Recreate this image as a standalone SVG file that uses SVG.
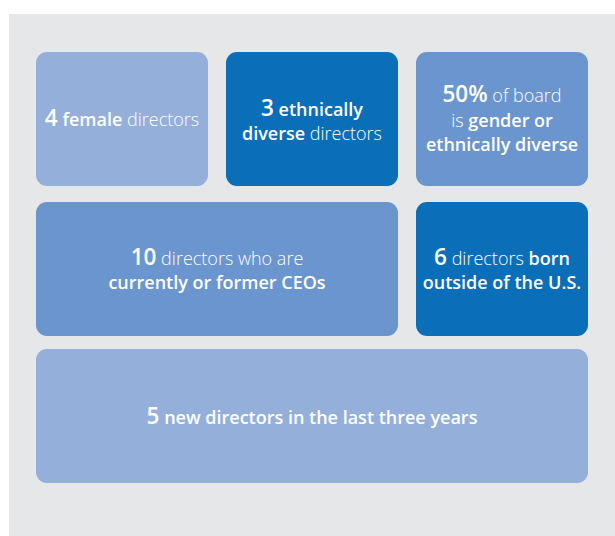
<svg xmlns="http://www.w3.org/2000/svg" width="615" height="536" viewBox="0 0 615 536">
<style>
.bg{fill:#E6E7E8}
.light{fill:#93AFDA}
.mid{fill:#6A95CE}
.dark{fill:#0A6EB8}
text{font-family:"Open Sans","Noto Sans",sans-serif;font-size:18px;fill:#FFFFFF;text-anchor:middle;font-weight:300}
.b{font-weight:600}
.n{font-weight:600;font-size:22.5px}
</style>
<rect class="bg" x="9" y="14" width="606" height="522"/>
<g id="female">
<rect class="light" x="36" y="52" width="172" height="134" rx="11"/>
<text x="122" y="126"><tspan class="n">4</tspan> <tspan class="b">female</tspan> directors</text>
</g>
<g id="ethnic">
<rect class="dark" x="226" y="52" width="172" height="134" rx="11"/>
<text x="312" y="116"><tspan class="n">3</tspan> <tspan class="b">ethnically</tspan></text>
<text x="312" y="140"><tspan class="b">diverse</tspan> directors</text>
</g>
<g id="fifty">
<rect class="mid" x="416" y="52" width="172" height="134" rx="11"/>
<text x="502" y="102"><tspan class="n">50%</tspan> of board</text>
<text x="502" y="127">is <tspan class="b">gender or</tspan></text>
<text x="502" y="151"><tspan class="b">ethnically diverse</tspan></text>
</g>
<g id="ceos">
<rect class="mid" x="36" y="202" width="362" height="134" rx="11"/>
<text x="217" y="265"><tspan class="n">10</tspan> directors who are</text>
<text x="217" y="289"><tspan class="b">currently or former CEOs</tspan></text>
</g>
<g id="born">
<rect class="dark" x="416" y="202" width="172" height="134" rx="11"/>
<text x="502" y="265"><tspan class="n">6</tspan> directors <tspan class="b">born</tspan></text>
<text x="502" y="289"><tspan class="b">outside of the U.S.</tspan></text>
</g>
<g id="new">
<rect class="light" x="36" y="349" width="552" height="134" rx="11"/>
<text x="312" y="424"><tspan class="n">5</tspan> <tspan class="b">new directors in the last three years</tspan></text>
</g>
<g id="connectors"/>
</svg>
